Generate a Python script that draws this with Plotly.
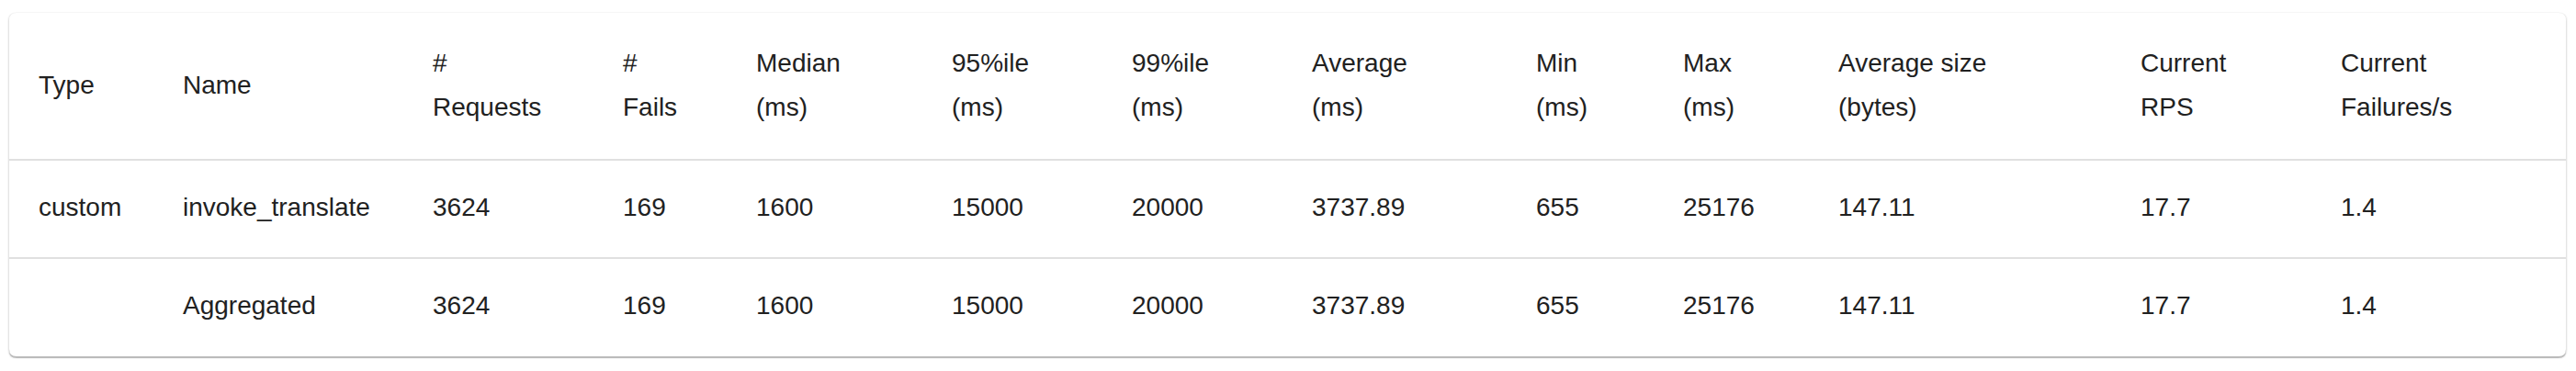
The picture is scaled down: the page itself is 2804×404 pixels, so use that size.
import plotly.graph_objects as go

# ---------------- data ----------------
header_line1 = ["Type", "Name", "#", "#", "Median", "95%ile", "99%ile", "Average",
                "Min", "Max", "Average size", "Current", "Current"]
header_line2 = ["", "", "Requests", "Fails", "(ms)", "(ms)", "(ms)", "(ms)",
                "(ms)", "(ms)", "(bytes)", "RPS", "Failures/s"]

types = ["custom", ""]
names = ["invoke_translate", "Aggregated"]
requests = [3624, 3624]
fails = [169, 169]
median_ms = [1600, 1600]
p95_ms = [15000, 15000]
p99_ms = [20000, 20000]
average_ms = [3737.89, 3737.89]
min_ms = [655, 655]
max_ms = [25176, 25176]
avg_size_bytes = [147.11, 147.11]
current_rps = [17.7, 17.7]
current_failures = [1.4, 1.4]

columns = [types, names, requests, fails, median_ms, p95_ms, p99_ms, average_ms,
           min_ms, max_ms, avg_size_bytes, current_rps, current_failures]

# ---------------- layout / style ----------------
PAGE_W, PAGE_H = 2804, 404
BODY_MARGIN = 8                      # default page body margin around the plot div
W, H = PAGE_W - 2 * BODY_MARGIN, PAGE_H - 2 * BODY_MARGIN
# card position in page pixels, converted to figure pixels
CARD_L, CARD_T, CARD_R, CARD_B = [v - BODY_MARGIN for v in (10, 14, 2793, 388)]
col_widths = [157, 272, 207, 145, 213, 196, 196, 244, 160, 169, 329, 218, 277]
cell_pad = 32
header_h = 160
row_h = 107
FONT = "Liberation Sans, Arial, Helvetica, sans-serif"
TEXT_COLOR = "#212121"
FS = 28

card_w = CARD_R - CARD_L
card_h = CARD_B - CARD_T

col_left = []
acc = 0
for w in col_widths:
    col_left.append(acc)
    acc += w
text_x = [c + cell_pad for c in col_left]

n_rows = len(names)
row_bounds = [header_h + i * row_h for i in range(n_rows)]
row_centers = [header_h + i * row_h + row_h / 2 + 0.5 for i in range(n_rows)]


def fmt(v):
    return str(v)


fig = go.Figure()

# header: two-line and single-line labels
single_x, single_t = [], []
l1_x, l1_t, l2_x, l2_t = [], [], [], []
for i, (a, b) in enumerate(zip(header_line1, header_line2)):
    if b:
        l1_x.append(text_x[i]); l1_t.append(a)
        l2_x.append(text_x[i]); l2_t.append(b)
    else:
        single_x.append(text_x[i]); single_t.append(a)

hdr_mid = 81
line_gap = 48
fig.add_trace(go.Scatter(x=single_x, y=[hdr_mid] * len(single_x), text=single_t,
                         mode="text", textposition="middle right"))
fig.add_trace(go.Scatter(x=l1_x, y=[hdr_mid - line_gap / 2] * len(l1_x), text=l1_t,
                         mode="text", textposition="middle right"))
fig.add_trace(go.Scatter(x=l2_x, y=[hdr_mid + line_gap / 2] * len(l2_x), text=l2_t,
                         mode="text", textposition="middle right"))

# body rows
for r in range(n_rows):
    xs, ts = [], []
    for c, col in enumerate(columns):
        xs.append(text_x[c])
        ts.append(fmt(col[r]))
    fig.add_trace(go.Scatter(x=xs, y=[row_centers[r]] * len(xs), text=ts,
                             mode="text", textposition="middle right"))

fig.update_traces(textfont=dict(family=FONT, size=FS, color=TEXT_COLOR),
                  hoverinfo="skip", cliponaxis=False)


# card with shadow (paper coordinates, converted from pixels)
def rrect(x0, y0, x1, y1, r):
    def px(x):
        return x / W

    def py(y):
        return 1 - y / H

    return (f"M {px(x0 + r)},{py(y0)} L {px(x1 - r)},{py(y0)} "
            f"Q {px(x1)},{py(y0)} {px(x1)},{py(y0 + r)} "
            f"L {px(x1)},{py(y1 - r)} Q {px(x1)},{py(y1)} {px(x1 - r)},{py(y1)} "
            f"L {px(x0 + r)},{py(y1)} Q {px(x0)},{py(y1)} {px(x0)},{py(y1 - r)} "
            f"L {px(x0)},{py(y0 + r)} Q {px(x0)},{py(y0)} {px(x0 + r)},{py(y0)} Z")


shapes = [
    dict(type="path", path=rrect(CARD_L - 2, CARD_T - 1, CARD_R + 2, CARD_B + 3, 10),
         xref="paper", yref="paper", fillcolor="rgba(0,0,0,0.035)", line=dict(width=0), layer="below"),
    dict(type="path", path=rrect(CARD_L - 1, CARD_T, CARD_R + 1, CARD_B + 2, 9),
         xref="paper", yref="paper", fillcolor="rgba(0,0,0,0.07)", line=dict(width=0), layer="below"),
    dict(type="path", path=rrect(CARD_L, CARD_T + 2, CARD_R, CARD_B + 2, 8),
         xref="paper", yref="paper", fillcolor="rgba(0,0,0,0.18)", line=dict(width=0), layer="below"),
    dict(type="path", path=rrect(CARD_L, CARD_T, CARD_R, CARD_B, 8),
         xref="paper", yref="paper", fillcolor="#ffffff", line=dict(width=0), layer="below"),
]

fig.update_layout(
    width=W, height=H,
    margin=dict(l=0, r=0, t=0, b=0),
    paper_bgcolor="#ffffff",
    plot_bgcolor="rgba(0,0,0,0)",
    showlegend=False,
    hovermode=False,
    shapes=shapes,
    xaxis=dict(range=[0, card_w], domain=[CARD_L / W, CARD_R / W], visible=False,
               fixedrange=True),
    yaxis=dict(range=[card_h, 0], domain=[1 - CARD_B / H, 1 - CARD_T / H],
               tickvals=row_bounds, showgrid=True, gridcolor="#e0e0e0", gridwidth=2,
               showticklabels=False, ticks="", zeroline=False, showline=False,
               fixedrange=True),
)

fig.write_html("out.html", config={"displayModeBar": False})
